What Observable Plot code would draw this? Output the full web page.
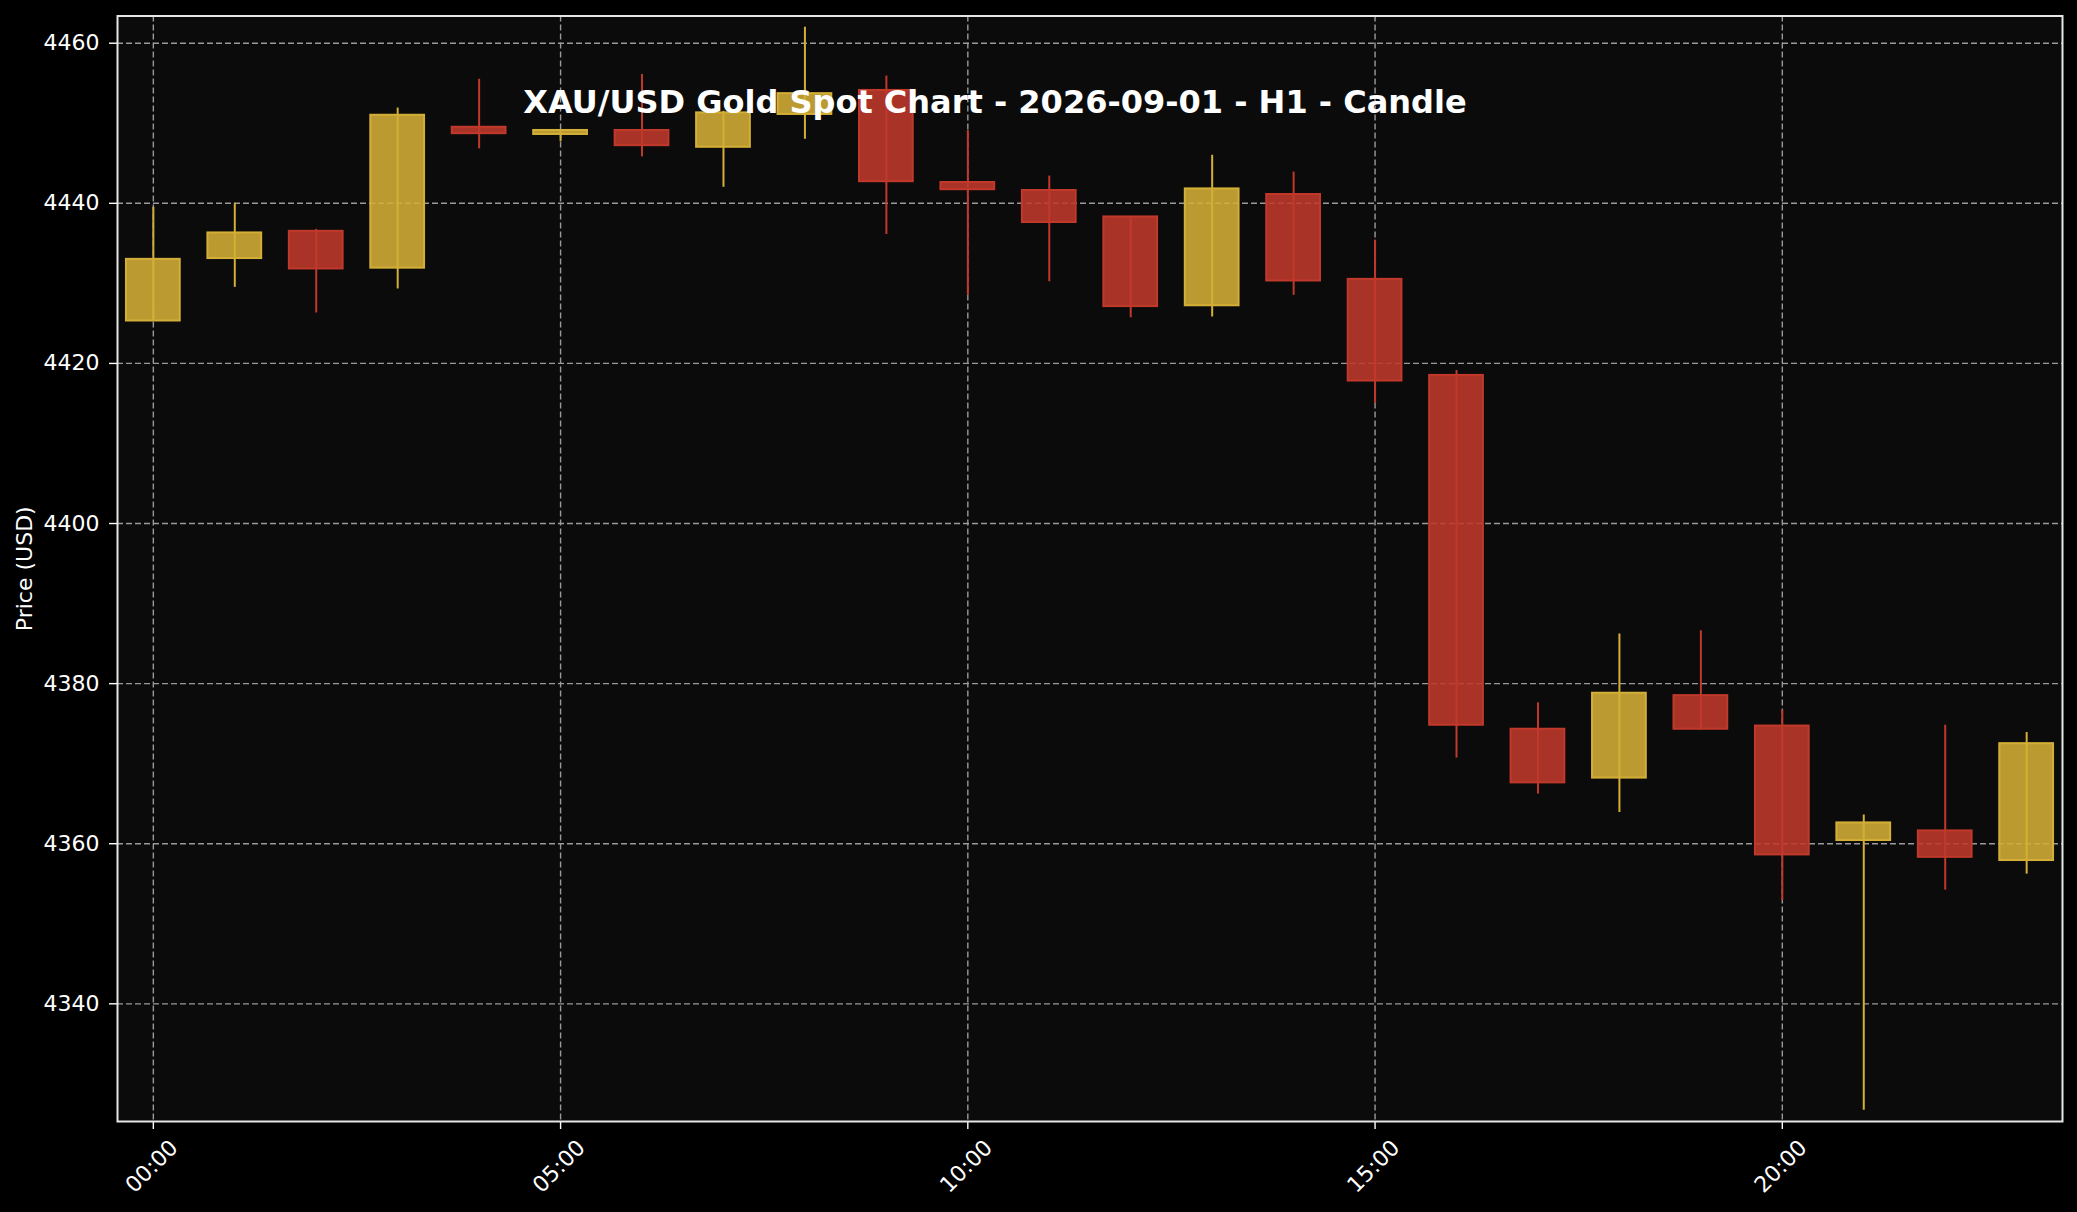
<!DOCTYPE html>
<html>
<head>
<meta charset="utf-8">
<script src="https://cdn.jsdelivr.net/npm/d3@7"></script>
<script src="https://cdn.jsdelivr.net/npm/@observablehq/plot@0.6"></script>
<style>
  html, body { margin: 0; padding: 0; background: #000; }
  #wrap { position: relative; width: 2077px; height: 1212px; }
  #title {
    position: absolute; left: 0; top: 85.6px; width: 1990px; text-align: center;
    font-family: "DejaVu Sans", sans-serif; font-weight: bold; font-size: 32px; line-height: 32px;
    color: #fff; pointer-events: none; white-space: nowrap;
  }
</style>
</head>
<body>
<div id="wrap"><div id="chart"></div><div id="title">XAU/USD Gold Spot Chart - 2026-09-01 - H1 - Candle</div></div>
<script>
const hours = [0,1,2,3,4,5,6,7,8,9,10,11,12,13,14,15,16,17,18,19,20,21,22,23];
const openP  = [4425.3,4433.1,4436.5,4431.9,4449.5,4448.6,4449.1,4447.0,4451.1,4454.1,4442.6,4441.6,4438.3,4427.2,4441.1,4430.5,4418.5,4374.3,4368.2,4378.5,4374.7,4360.4,4361.6,4357.9];
const highP  = [4439.5,4440.0,4436.75,4451.9,4455.5,4449.1,4456.1,4451.5,4462.0,4455.9,4449.1,4443.4,4438.3,4446.0,4443.9,4435.4,4419.1,4377.6,4386.2,4386.6,4376.7,4363.6,4374.8,4373.9];
const lowP   = [4425.3,4429.5,4426.3,4429.3,4446.8,4447.7,4445.8,4442.0,4448.0,4436.1,4428.5,4430.2,4425.7,4425.8,4428.5,4415.0,4370.7,4366.2,4363.9,4374.2,4352.9,4326.7,4354.2,4356.2];
const closeP = [4433.0,4436.3,4431.8,4451.0,4448.7,4449.1,4447.2,4451.3,4453.7,4442.7,4441.7,4437.6,4427.1,4441.8,4430.3,4417.8,4374.8,4367.6,4378.8,4374.3,4358.6,4362.6,4358.3,4372.5];
const xTickHours = [0,5,10,15,20];
const xTickLabels = ["00:00","05:00","10:00","15:00","20:00"];
const yTicks = [4340,4360,4380,4400,4420,4440,4460];

const candles = hours.map((h, i) => ({hour: h, open: openP[i], high: highP[i], low: lowP[i], close: closeP[i], up: closeP[i] >= openP[i]}));
const xLabels = xTickHours.map((h, i) => ({hour: h, label: xTickLabels[i]}));

const halfW = 0.33;
const upEdge = "#d4af37", upFill = "#d4af37";
const dnEdge = "#c0392b", dnFill = "#c0392b";

const chart = Plot.plot({
  width: 2077,
  height: 1212,
  marginLeft: 117,
  marginRight: 15,
  marginTop: 15.5,
  marginBottom: 91,
  style: {background: "#000", color: "#fff", fontFamily: "DejaVu Sans, sans-serif", fontSize: "22px"},
  x: {type: "linear", domain: [-0.44, 23.44]},
  y: {domain: [4325.3, 4463.4]},
  marks: [
    Plot.frame({fill: "#0b0b0b", stroke: null}),
    Plot.gridX(xTickHours, {stroke: "#9a9a9a", strokeOpacity: 1, strokeWidth: 1.4, strokeDasharray: "6,3"}),
    Plot.gridY(yTicks, {stroke: "#9a9a9a", strokeOpacity: 1, strokeWidth: 1.4, strokeDasharray: "6,3"}),
    Plot.ruleX(candles, {x: "hour", y1: "low", y2: "high", stroke: d => d.up ? upEdge : dnEdge, strokeWidth: 2}),
    Plot.rect(candles, {
      x1: d => d.hour - halfW, x2: d => d.hour + halfW,
      y1: "open", y2: "close",
      fill: d => d.up ? upFill : dnFill, fillOpacity: 0.88,
      stroke: d => d.up ? upEdge : dnEdge, strokeWidth: 2
    }),
    Plot.axisY({ticks: yTicks, tickSize: 8, tickPadding: 10, tickFormat: d => String(d), stroke: "#fff", strokeWidth: 1.4, fill: "#fff", fontSize: 22, label: null}),
    Plot.axisX({ticks: xTickHours, tickSize: 8, tickFormat: () => "", stroke: "#fff", strokeWidth: 1.4, label: null}),
    Plot.text(xLabels, {x: "hour", text: "label", frameAnchor: "bottom", dx: -1.5, dy: 45, rotate: -45, textAnchor: "middle", lineAnchor: "middle", fill: "#fff", fontSize: 22}),
    Plot.text(["Price (USD)"], {frameAnchor: "left", dx: -93, rotate: -90, textAnchor: "middle", lineAnchor: "middle", fill: "#fff", fontSize: 22}),
    Plot.frame({stroke: "#e6e6e6", strokeWidth: 2})
  ]
});
document.getElementById("chart").appendChild(chart);
</script>
</body>
</html>
